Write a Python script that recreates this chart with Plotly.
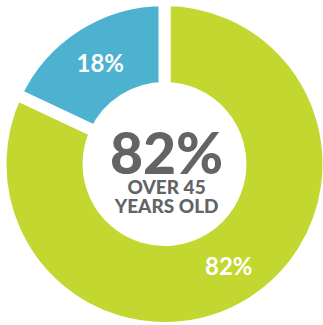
import plotly.graph_objects as go

labels = ["Over 45", "45 and under"]
values = [82, 18]
colors = ["#c2d730", "#4cb2cf"]
center_value = "82%"
caption_lines = ["OVER 45", "YEARS OLD"]

W, H = 329, 328

fig = go.Figure(go.Pie(
    labels=labels,
    values=values,
    sort=False,
    direction="clockwise",
    rotation=0,
    hole=0.463,
    marker=dict(colors=colors, line=dict(color="white", width=12)),
    texttemplate="%{value}%",
    textposition="inside",
    insidetextorientation="horizontal",
    textfont=dict(family="Lato", size=24, color="white", weight="bold"),
    showlegend=False,
    hoverinfo="skip",
    domain=dict(x=[0, 1], y=[0, 1]),
))

center_text = "<span style='font-size:57px'>%s</span>" % center_value + "".join(
    "<br><span style='font-size:19px'>%s</span>" % s for s in caption_lines)
fig.add_annotation(text=center_text, x=0.505, y=1 - 167 / H, xref="paper", yref="paper",
                   showarrow=False, align="center",
                   font=dict(family="Lato", size=15, color="#636466", weight=900))

fig.update_layout(width=W, height=H, margin=dict(l=0, r=0, t=0, b=0),
                  paper_bgcolor="white", plot_bgcolor="white")
fig.write_html("out.html")
